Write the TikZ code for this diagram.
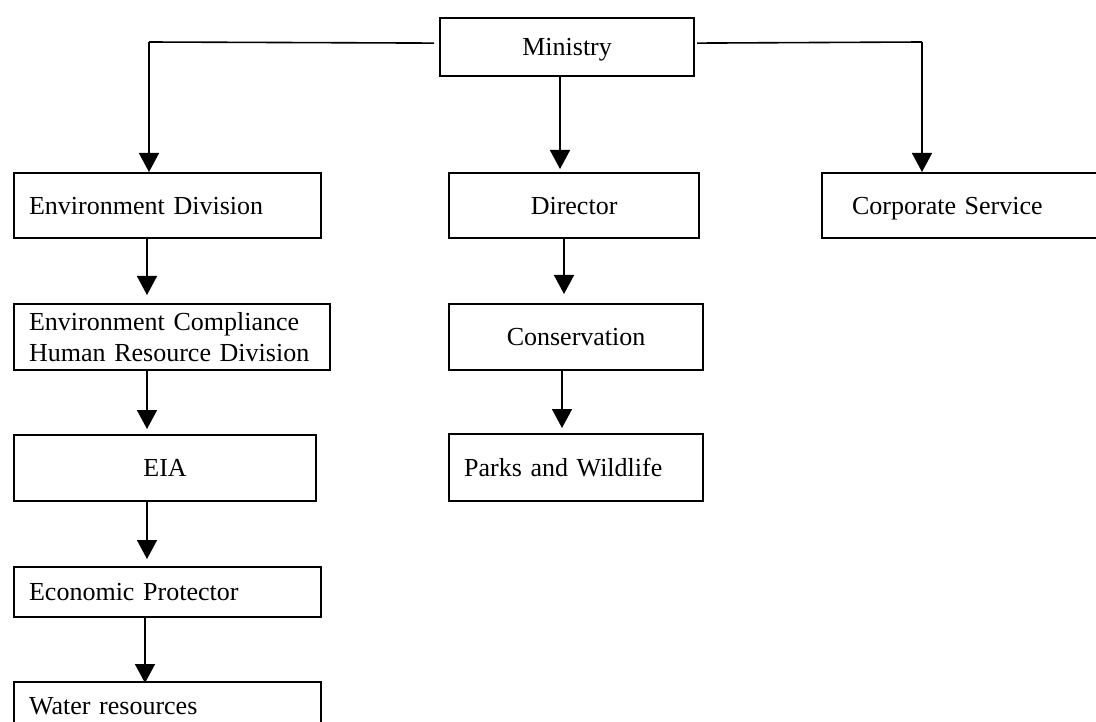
\documentclass[tikz,border=0pt]{standalone}
\usepackage{fontspec}
\setmainfont{Liberation Serif}
\usetikzlibrary{arrows.meta,calc}
\begin{document}
\begin{tikzpicture}[x=1pt,y=-1pt,
  box/.style={draw, line width=2.2pt, inner ysep=0pt, inner xsep=0pt, anchor=north west,
    text height=17pt, text depth=0pt, font=\fontsize{26}{31}\selectfont},
  cbox/.style={box, align=center},
  lbox/.style={box, align=left, inner xsep=15pt},
  conn/.style={line width=1.6pt, -{Triangle[width=20pt,length=19pt]}},
  plain/.style={line width=1.6pt}]
\useasboundingbox (0,0) rectangle (1096,722);
\clip (0,0) rectangle (1096,722);

% boxes
\node[cbox, minimum width=254pt, minimum height=58pt] (min) at (439,17) {Ministry};
\node[lbox, text width=277pt, minimum height=65pt] (envdiv) at (13,172) {Environment Division};
\node[cbox, minimum width=250pt, minimum height=65pt] (dir) at (448,172) {Director};
\node[lbox, inner xsep=30pt, text width=240pt, minimum height=65pt] (corp) at (821,172) {Corporate Service};
\node[lbox, text width=286pt, minimum height=66pt, text depth=31pt] (comp) at (13,303)
  {Environment Compliance\\Human Resource Division};
\node[cbox, minimum width=254pt, minimum height=66pt] (cons) at (448,303) {Conservation};
\node[cbox, minimum width=302pt, minimum height=66pt] (eia) at (13,434) {EIA};
\node[lbox, text width=224pt, minimum height=67pt] (parks) at (448,433) {Parks and Wildlife};
\node[lbox, text width=277pt, minimum height=50pt] (econ) at (13,566) {Economic Protector};
\node[lbox, text width=277pt, minimum height=47pt] (water) at (13,681) {Water resources};

% connectors from Ministry
\coordinate (L) at (149,42);
\coordinate (R) at (922,42);
\coordinate (mx) at (560,0);
\draw[plain] ([xshift=-5pt,yshift=4pt]min.west) -- (L);
\draw[conn] (L) -- (L |- envdiv.north);
\draw[plain] ([xshift=2pt,yshift=4pt]min.east) -- (R);
\draw[conn] (R) -- (R |- corp.north);
\draw[conn, shorten >=3pt] (mx |- min.south) -- (mx |- dir.north);

% middle chain
\coordinate (dx) at (564,0);
\coordinate (cx) at (562,0);
\draw[conn, shorten >=9pt] (dx |- dir.south) -- (dx |- cons.north);
\draw[conn, shorten >=5pt] (cx |- cons.south) -- (cx |- parks.north);

% left chain
\coordinate (ex) at (147,0);
\coordinate (fx) at (145,0);
\draw[conn, shorten >=8pt] (ex |- envdiv.south) -- (ex |- comp.north);
\draw[conn, shorten >=5pt] (ex |- comp.south) -- (ex |- eia.north);
\draw[conn, shorten >=7pt] (ex |- eia.south) -- (ex |- econ.north);
\draw[conn, shorten >=-2pt] (fx |- econ.south) -- (fx |- water.north);
\end{tikzpicture}
\end{document}
